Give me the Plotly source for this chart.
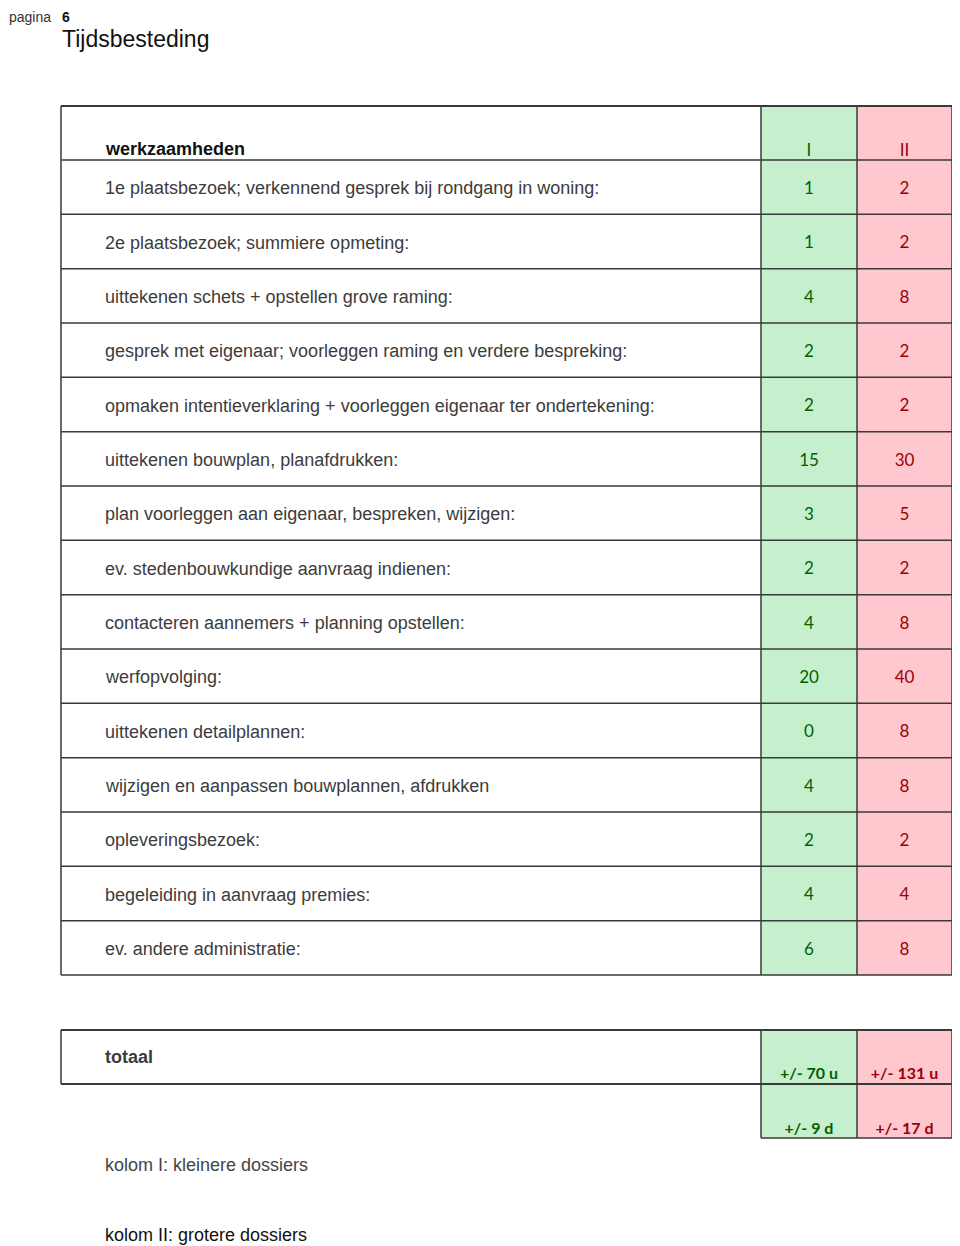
import plotly.graph_objects as go

# ---------------- data ----------------
tasks = [
    "1e plaatsbezoek; verkennend gesprek bij rondgang in woning:",
    "2e plaatsbezoek; summiere opmeting:",
    "uittekenen schets + opstellen grove raming:",
    "gesprek met eigenaar; voorleggen raming en verdere bespreking:",
    "opmaken intentieverklaring + voorleggen eigenaar ter ondertekening:",
    "uittekenen bouwplan, planafdrukken:",
    "plan voorleggen aan eigenaar, bespreken, wijzigen:",
    "ev. stedenbouwkundige aanvraag indienen:",
    "contacteren aannemers + planning opstellen:",
    "werfopvolging:",
    "uittekenen detailplannen:",
    "wijzigen en aanpassen bouwplannen, afdrukken",
    "opleveringsbezoek:",
    "begeleiding in aanvraag premies:",
    "ev. andere administratie:",
]
hours_I = [1, 1, 4, 2, 2, 15, 3, 2, 4, 20, 0, 4, 2, 4, 6]
hours_II = [2, 2, 8, 2, 2, 30, 5, 2, 8, 40, 8, 8, 2, 4, 8]
column_labels = ["I", "II"]
total_hours = ["+/- 70 u", "+/- 131 u"]
total_days = ["+/- 9 d", "+/- 17 d"]
header_label = "werkzaamheden"
total_label = "totaal"
notes = ["kolom I: kleinere dossiers", "kolom II: grotere dossiers"]
page_label = "pagina"
page_number = "6"
title = "Tijdsbesteding"

# ---------------- geometry / style ----------------
# the page body has an 8px margin: the figure is drawn at (8, 8), so the
# axes ranges are shifted so that axis units equal window pixels
OFF = 8
W, H = 960 - OFF, 1246 - OFF
X_LEFT, X_COL1, X_COL2, X_RIGHT = 61, 761, 857, 952
Y_TOP, Y_HEAD = 106, 160
ROW_H = (975 - 160) / 15
Y_TOT_TOP, Y_TOT_MID, Y_TOT_BOT = 1030, 1084, 1138
TEXT_X = 104
NUM_DY = 2.5
GREEN_FILL, PINK_FILL = "#C6EFCE", "#FFC7CE"
GREEN_TXT, RED_TXT = "#006100", "#9C0006"
LINE_COL = "#3a3a3a"
LABEL_FONT = "Liberation Sans, Arial, sans-serif"
NUM_FONT = "Lato, Carlito, Calibri, sans-serif"

n = len(tasks)
row_edges = [Y_HEAD + i * ROW_H for i in range(n + 1)]
row_centers = [(row_edges[i] + row_edges[i + 1]) / 2 for i in range(n)]
Y_BOTTOM = row_edges[-1]
cx1 = (X_COL1 + X_COL2) / 2
cx2 = (X_COL2 + X_RIGHT) / 2

fig = go.Figure()
shapes = []

# coloured columns
for (x0, x1, col) in [(X_COL1, X_COL2, GREEN_FILL), (X_COL2, X_RIGHT, PINK_FILL)]:
    shapes.append(dict(type="rect", xref="x", yref="y", x0=x0, x1=x1, y0=Y_TOP, y1=Y_BOTTOM,
                       fillcolor=col, line_width=0, layer="below"))
    shapes.append(dict(type="rect", xref="x", yref="y", x0=x0, x1=x1, y0=Y_TOT_TOP, y1=Y_TOT_BOT,
                       fillcolor=col, line_width=0, layer="below"))

def hline(y, x0, x1, w=1.5):
    shapes.append(dict(type="line", xref="x", yref="y", x0=x0, x1=x1, y0=y, y1=y,
                       line=dict(color=LINE_COL, width=w)))

def vline(x, y0, y1, w=1.5):
    shapes.append(dict(type="line", xref="x", yref="y", x0=x, x1=x, y0=y0, y1=y1,
                       line=dict(color=LINE_COL, width=w)))

# main table grid
hline(Y_TOP, X_LEFT, X_RIGHT, 2)
for y in row_edges:
    hline(y, X_LEFT, X_RIGHT, 1.5)
for x in [X_LEFT, X_COL1, X_COL2, X_RIGHT]:
    vline(x, Y_TOP, Y_BOTTOM, 1.5)

# totals box
hline(Y_TOT_TOP, X_LEFT, X_RIGHT, 2)
hline(Y_TOT_MID, X_LEFT, X_RIGHT, 2)
hline(Y_TOT_BOT, X_COL1, X_RIGHT, 1.5)
vline(X_LEFT, Y_TOT_TOP, Y_TOT_MID, 1.5)
for x in [X_COL1, X_COL2, X_RIGHT]:
    vline(x, Y_TOT_TOP, Y_TOT_BOT, 1.5)

num_y = [y + NUM_DY for y in row_centers]
# numbers
fig.add_trace(go.Scatter(x=[cx1] * n, y=num_y, mode="text", text=[str(v) for v in hours_I],
                         textfont=dict(family=NUM_FONT, size=17, color=GREEN_TXT),
                         textposition="middle center", hoverinfo="skip", showlegend=False))
fig.add_trace(go.Scatter(x=[cx2] * n, y=num_y, mode="text", text=[str(v) for v in hours_II],
                         textfont=dict(family=NUM_FONT, size=17, color=RED_TXT),
                         textposition="middle center", hoverinfo="skip", showlegend=False))
# header column labels
fig.add_trace(go.Scatter(x=[cx1], y=[149 + NUM_DY], mode="text", text=[column_labels[0]],
                         textfont=dict(family=NUM_FONT, size=17, color=GREEN_TXT),
                         hoverinfo="skip", showlegend=False))
fig.add_trace(go.Scatter(x=[cx2], y=[149 + NUM_DY], mode="text", text=[column_labels[1]],
                         textfont=dict(family=NUM_FONT, size=17, color=RED_TXT),
                         hoverinfo="skip", showlegend=False))
# totals
tot_y = [1072 + NUM_DY, 1127 + NUM_DY]
fig.add_trace(go.Scatter(x=[cx1, cx1], y=tot_y, mode="text", text=[total_hours[0], total_days[0]],
                         textfont=dict(family=NUM_FONT, size=16, color=GREEN_TXT, weight="bold"),
                         hoverinfo="skip", showlegend=False))
fig.add_trace(go.Scatter(x=[cx2, cx2], y=tot_y, mode="text", text=[total_hours[1], total_days[1]],
                         textfont=dict(family=NUM_FONT, size=16, color=RED_TXT, weight="bold"),
                         hoverinfo="skip", showlegend=False))

annotations = []

def label(x, y, text, size=18, color="#3c3c3c", bold=False, family=LABEL_FONT):
    annotations.append(dict(x=x, y=y, xref="x", yref="y", text=(f"<b>{text}</b>" if bold else text),
                            showarrow=False, xanchor="left", yanchor="middle",
                            font=dict(family=family, size=size, color=color), borderpad=0))

for t, yc in zip(tasks, row_centers):
    label(TEXT_X, yc + 1, t)
label(TEXT_X, 149, header_label, color="#111111", bold=True)
label(TEXT_X, 1057, total_label, color="#3c3c3c", bold=True)
label(TEXT_X, 1165, notes[0], color="#444444")
label(TEXT_X, 1235, notes[1], color="#111111")
label(61, 39, title, size=23, color="#111111")

# page header sits at the very top edge of the figure
for txt, xpos, bold, col in [(page_label, OFF, False, "#333333"), (page_number, 61, True, "#111111")]:
    annotations.append(dict(x=xpos, y=OFF, xref="x", yref="paper", text=(f"<b>{txt}</b>" if bold else txt),
                            showarrow=False, xanchor="left", yanchor="top", yshift=0,
                            font=dict(family=LABEL_FONT, size=14, color=col), borderpad=0))
annotations[-2]["y"] = 1
annotations[-1]["y"] = 1

fig.update_layout(
    width=W, height=H,
    margin=dict(l=0, r=0, t=0, b=0),
    paper_bgcolor="white", plot_bgcolor="white",
    xaxis=dict(range=[OFF, OFF + W], visible=False, fixedrange=True),
    yaxis=dict(range=[OFF + H, OFF], visible=False, fixedrange=True),
    shapes=shapes, annotations=annotations,
    showlegend=False,
)

fig.write_html("out.html")
